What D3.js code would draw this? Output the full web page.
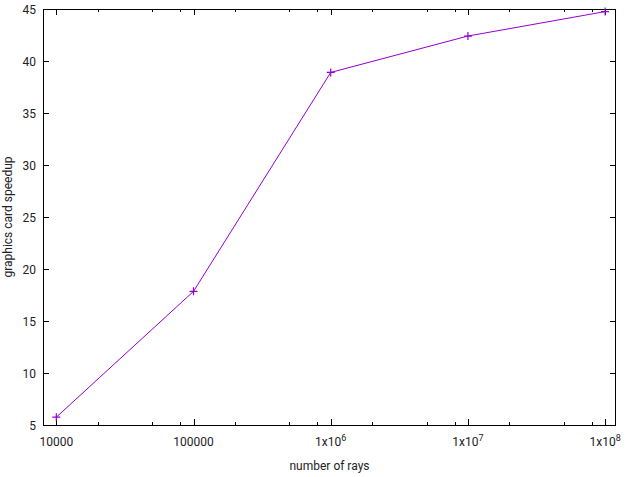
<!DOCTYPE html>
<html>
<head>
<meta charset="utf-8">
<script src="https://cdn.jsdelivr.net/npm/d3@7"></script>
<style>
  body { margin: 0; background: #fff; }
  svg text { font-family: Roboto, "Liberation Sans", sans-serif; font-size: 12px; fill: #222; }
</style>
</head>
<body>
<svg id="chart" width="633" height="477"></svg>
<script>
// data
const rayCounts = [1e4, 1e5, 1e6, 1e7, 1e8];
const speedups = [5.75, 17.85, 38.9, 42.4, 44.75];
const yTicks = [5, 10, 15, 20, 25, 30, 35, 40, 45];
const xMajorTicks = [1e4, 1e5, 1e6, 1e7, 1e8];
const xMinorFactors = [2, 5, 8];

const svg = d3.select("#chart");
const margin = { left: 43, right: 17, top: 9, bottom: 52 };
const width = 633, height = 477;
const plotRight = width - margin.right;
const plotBottom = height - margin.bottom;
const lineColor = "#9400d3";

const x = d3.scaleLog()
    .domain([8000, 1.2e8])
    .range([margin.left, plotRight]);

const y = d3.scaleLinear()
    .domain([5, 45])
    .range([plotBottom, margin.top]);

// minor ticks on the log axis
const xMinorTicks = [];
for (let d = 1e3; d <= 1e8; d *= 10) {
    xMinorFactors.forEach(f => {
        const v = d * f;
        if (v >= 8000 && v <= 1.2e8) xMinorTicks.push(v);
    });
}

const g = svg.append("g");

// bottom axis labels
function fmtX(v) {
    const e = Math.round(Math.log10(v));
    return e <= 5 ? String(v) : null;
}

const tickGroup = g.append("g").attr("stroke", "#000").attr("stroke-width", 1);

// x major ticks, bottom and top, pointing inward
xMajorTicks.forEach(v => {
    const px = Math.round(x(v)) + 0.5;
    tickGroup.append("line").attr("x1", px).attr("x2", px).attr("y1", plotBottom).attr("y2", plotBottom - 6);
    tickGroup.append("line").attr("x1", px).attr("x2", px).attr("y1", margin.top).attr("y2", margin.top + 6);
});
xMinorTicks.forEach(v => {
    const px = Math.round(x(v)) + 0.5;
    tickGroup.append("line").attr("x1", px).attr("x2", px).attr("y1", plotBottom).attr("y2", plotBottom - 3);
    tickGroup.append("line").attr("x1", px).attr("x2", px).attr("y1", margin.top).attr("y2", margin.top + 3);
});
// y ticks, left and right
yTicks.forEach(v => {
    const py = Math.round(y(v)) + 0.5;
    tickGroup.append("line").attr("x1", margin.left).attr("x2", margin.left + 6).attr("y1", py).attr("y2", py);
    tickGroup.append("line").attr("x1", plotRight).attr("x2", plotRight - 6).attr("y1", py).attr("y2", py);
});

// x tick labels
xMajorTicks.forEach(v => {
    const t = g.append("text")
        .attr("x", x(v))
        .attr("y", plotBottom + 21)
        .attr("text-anchor", "middle");
    const plain = fmtX(v);
    if (plain) {
        t.text(plain);
    } else {
        t.append("tspan").text("1x10");
        t.append("tspan")
            .attr("dy", -5)
            .style("font-size", "9px")
            .text(Math.round(Math.log10(v)));
    }
});

// y tick labels
yTicks.forEach(v => {
    g.append("text")
        .attr("x", margin.left - 7)
        .attr("y", y(v) + 4.5)
        .attr("text-anchor", "end")
        .text(v);
});

// frame
g.append("rect")
    .attr("x", margin.left + 0.5)
    .attr("y", margin.top + 0.5)
    .attr("width", plotRight - margin.left - 1)
    .attr("height", plotBottom - margin.top)
    .attr("fill", "none")
    .attr("stroke", "#000");

// data line
const pts = rayCounts.map((r, i) => [r, speedups[i]]);
g.append("path")
    .datum(pts)
    .attr("fill", "none")
    .attr("stroke", lineColor)
    .attr("stroke-width", 1)
    .attr("d", d3.line().x(d => x(d[0])).y(d => y(d[1])));

// point markers (gnuplot '+')
g.selectAll(".pt")
    .data(pts)
    .enter().append("path")
    .attr("class", "pt")
    .attr("stroke", lineColor)
    .attr("stroke-width", 1.2)
    .attr("d", d => {
        const cx = x(d[0]), cy = y(d[1]);
        return `M${cx - 4},${cy}H${cx + 4}M${cx},${cy - 4}V${cy + 4}`;
    });

// axis titles
g.append("text")
    .attr("x", (margin.left + plotRight) / 2)
    .attr("y", 470)
    .attr("text-anchor", "middle")
    .text("number of rays");

g.append("text")
    .attr("transform", `translate(12, ${(margin.top + plotBottom) / 2}) rotate(-90)`)
    .attr("text-anchor", "middle")
    .text("graphics card speedup");
</script>
</body>
</html>
